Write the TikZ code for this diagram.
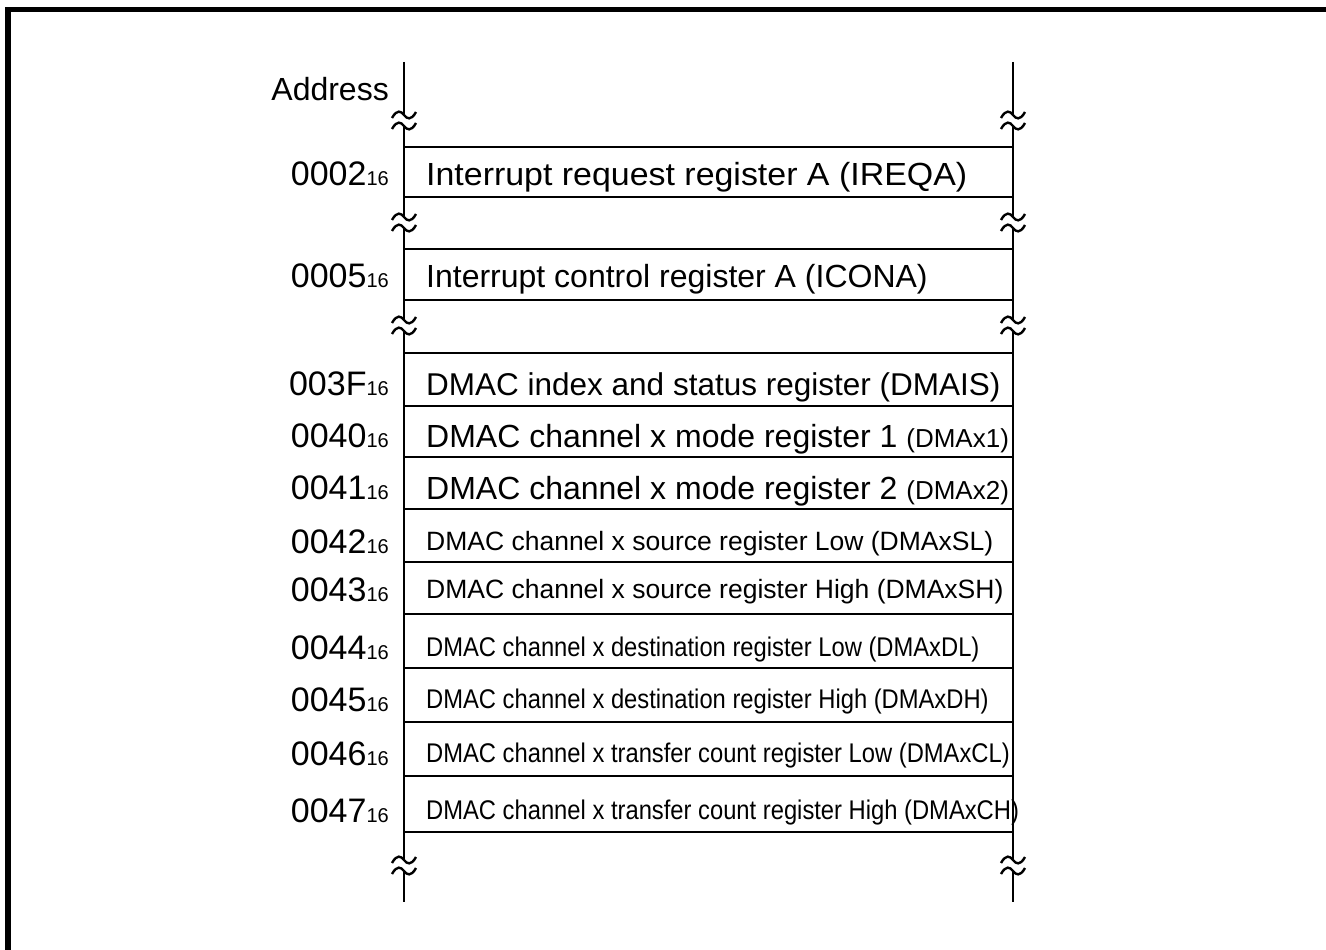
\documentclass[tikz,border=0pt]{standalone}
\usepackage{fontspec}
\setmainfont{Liberation Sans}
\newfontfamily\condfont[FakeStretch=0.88]{Liberation Sans}
\newfontfamily\widefont[FakeStretch=1.06]{Liberation Sans}
\newcommand\hexsub{{\fontsize{20}{20}\selectfont 16}}
\begin{document}
\begin{tikzpicture}[x=1pt,y=-1pt,
  frame/.style={line width=5.5pt},
  wall/.style={line width=2.6pt},
  rule/.style={line width=2.8pt},
  brk/.style={line width=2.4pt},
  addr/.style={anchor=base east, inner sep=0pt, font=\fontsize{34}{34}\selectfont},
  bigtxt/.style={anchor=base west, inner sep=0pt, font=\fontsize{32}{32}\selectfont},
  midtxt/.style={anchor=base west, inner sep=0pt, font=\fontsize{26.5}{26.5}\selectfont},
  condtxt/.style={anchor=base west, inner sep=0pt, font=\condfont\fontsize{27}{27}\selectfont}]
\useasboundingbox (0,0) rectangle (1326,950);
% frame (cropped)
\draw[frame] (8,960) -- (8,9.5) -- (1340,9.5);
% vertical walls with breaks
\foreach \x in {404,1013} {
  \draw[wall] (\x,62) -- (\x,115);
  \draw[wall] (\x,126) -- (\x,217);
  \draw[wall] (\x,228) -- (\x,320);
  \draw[wall] (\x,331) -- (\x,860);
  \draw[wall] (\x,871) -- (\x,902);
  \foreach \y in {115,126,217,228,320,331,860,871} {
    \draw[brk] (\x-12,\y+3) .. controls (\x-7,\y-6) and (\x-3,\y-4) .. (\x,\y)
               .. controls (\x+3,\y+4) and (\x+7,\y+6) .. (\x+12,\y-3);
  }
}
% horizontal rules
\foreach \y in {147,197,249,300,353,406,457,509,562,614,668,722,776,832}
  \draw[rule] (404,\y) -- (1013,\y);
% address labels
\node[addr, font=\fontsize{32}{32}\selectfont] (aAddr) at (389,100) {Address};
\node[addr] (a0002) at (389,185) {0002\hexsub};
\node[addr] (a0005) at (389,287) {0005\hexsub};
\node[addr] (a003F) at (389,395) {003F\hexsub};
\node[addr] (a0040) at (389,447) {0040\hexsub};
\node[addr] (a0041) at (389,499) {0041\hexsub};
\node[addr] (a0042) at (389,553) {0042\hexsub};
\node[addr] (a0043) at (389,601) {0043\hexsub};
\node[addr] (a0044) at (389,659) {0044\hexsub};
\node[addr] (a0045) at (389,711) {0045\hexsub};
\node[addr] (a0046) at (389,765) {0046\hexsub};
\node[addr] (a0047) at (389,822) {0047\hexsub};
% register names
\node[bigtxt, font=\widefont\fontsize{32}{32}\selectfont] (rIREQA) at (426,185) {Interrupt request register A (IREQA)};
\node[bigtxt] (rICONA) at (426,287) {Interrupt control register A (ICONA)};
\node[bigtxt, font=\fontsize{31.5}{31.5}\selectfont] (rDMAIS) at (426,395) {DMAC index and status register (DMAIS)};
\node[bigtxt] (rDMAx1) at (426,447) {DMAC channel x mode register 1 {\fontsize{26}{26}\selectfont(DMAx1)}};
\node[bigtxt] (rDMAx2) at (426,499) {DMAC channel x mode register 2 {\fontsize{26}{26}\selectfont(DMAx2)}};
\node[midtxt] (rDMAxSL) at (426,550) {DMAC channel x source register Low (DMAxSL)};
\node[midtxt] (rDMAxSH) at (426,598) {DMAC channel x source register High (DMAxSH)};
\node[condtxt] (rDMAxDL) at (426,656) {DMAC channel x destination register Low (DMAxDL)};
\node[condtxt] (rDMAxDH) at (426,708) {DMAC channel x destination register High (DMAxDH)};
\node[condtxt] (rDMAxCL) at (426,762) {DMAC channel x transfer count register Low (DMAxCL)};
\node[condtxt] (rDMAxCH) at (426,819) {DMAC channel x transfer count register High (DMAxCH)};
\end{tikzpicture}
\end{document}
